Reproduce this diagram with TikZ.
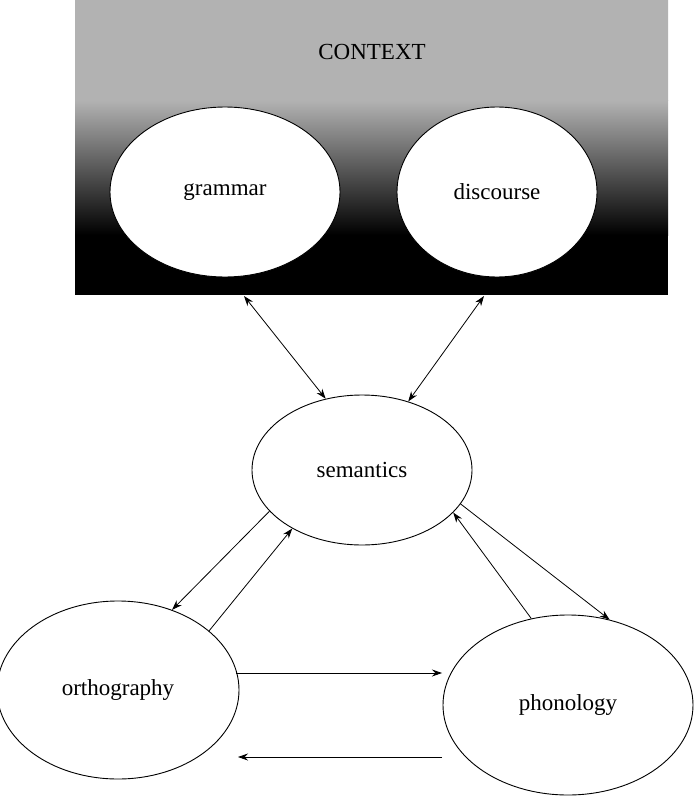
\documentclass[tikz,border=0pt]{standalone}
\usepackage{fontspec}
\setmainfont{Liberation Serif}
\usetikzlibrary{shapes.geometric,arrows.meta}
\begin{document}
\begin{tikzpicture}[x=1pt,y=-1pt,
  oval/.style={ellipse,draw,line width=0.9pt,fill=white,inner sep=0pt,font=\fontsize{23}{26}\selectfont},
  link/.style={line width=0.8pt,-{Stealth[length=10pt,width=7pt]}},
  dlink/.style={line width=0.8pt,{Stealth[length=10pt,width=7pt]}-{Stealth[length=10pt,width=7pt]}}]
\useasboundingbox (0,0) rectangle (700,811);
\fill[white] (0,0) rectangle (700,811);
\shade[top color=black!30,bottom color=black!30] (75,0) rectangle (668,100);
\shade[top color=black!30,bottom color=black] (75,100) rectangle (668,235);
\fill[black] (75,235) rectangle (668,295);
\node[font=\fontsize{23}{26}\selectfont] (ctx) at (372,52) {CONTEXT};
\node[oval,minimum width=230,minimum height=170] (gram) at (225,192) {grammar};
\node[oval,minimum width=200,minimum height=170] (disc) at (497,192) {discourse};
\node[oval,minimum width=220,minimum height=150] (sem) at (362,470) {semantics};
\node[oval,minimum width=242,minimum height=178] (orth) at (118,690) {orthography};
\node[oval,minimum width=250,minimum height=180] (phon) at (568,705) {phonology};
\coordinate (gb) at (244,296);
\coordinate (db) at (484,296);
\coordinate (o1) at (236,673);
\coordinate (p1) at (442,673);
\coordinate (p2) at (442,757);
\coordinate (o2) at (238,757);
\draw[dlink] (gb) -- (sem.117);
\draw[dlink] (db) -- (sem.56);
\draw[link] (sem.204) -- (orth.56);
\draw[link] (orth.33) -- (sem.220);
\draw[link] (sem.-19) -- (phon.64);
\draw[link] (phon.113) -- (sem.-25);
\draw[link] (o1) -- (p1);
\draw[link] (p2) -- (o2);
\end{tikzpicture}
\end{document}
